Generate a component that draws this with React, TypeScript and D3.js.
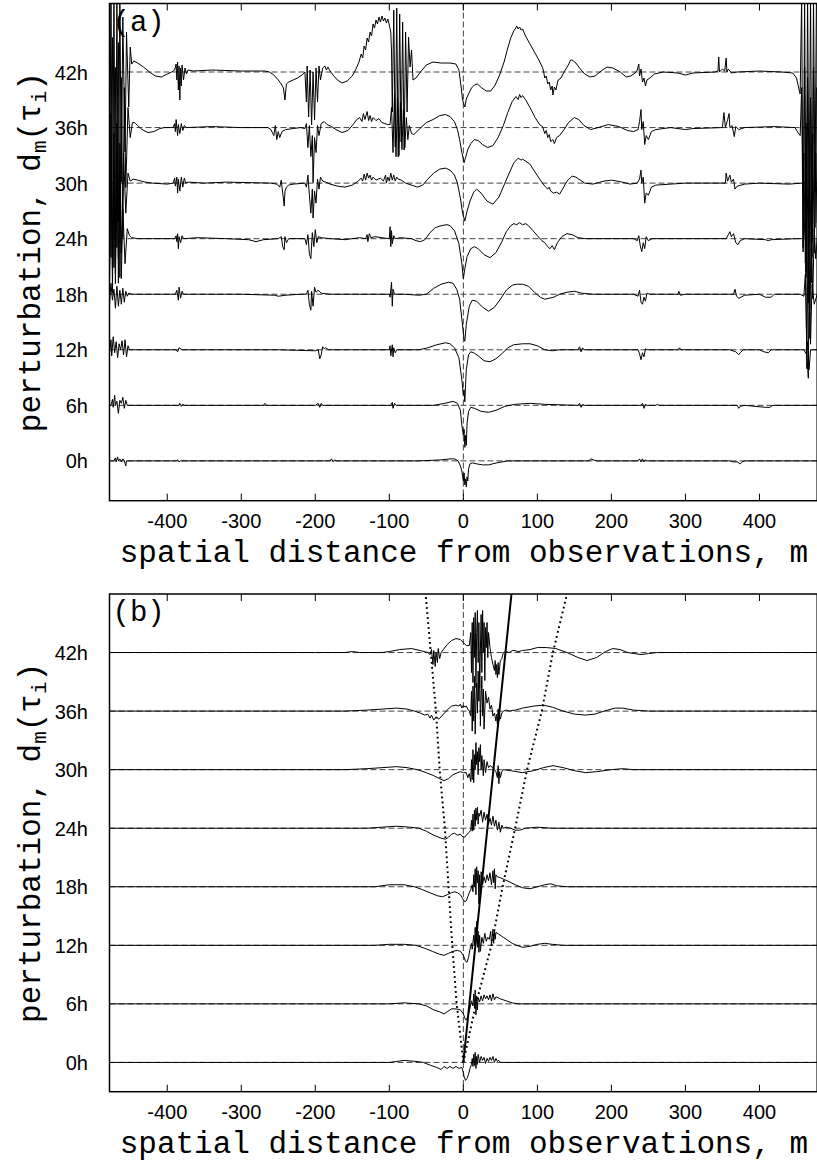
import React from 'react';
import * as d3 from 'd3';

type P = [number, number];

const X_TICKS = [-400, -300, -200, -100, 0, 100, 200, 300, 400];
const HOURS = [0, 6, 12, 18, 24, 30, 36, 42];
const HOUR_LABELS = ['0h', '6h', '12h', '18h', '24h', '30h', '36h', '42h'];
const X_TITLE = 'spatial distance from observations, m';

// ---------- panel (a): perturbation traces, [distance m, perturbation] ----------
const A_0H: P[] = [[-480,0],[-472,0],[-470,3],[-469,-1],[-467,4],[-466,0],[-464,2],[-462,-1],[-460,2],[-458,0],[-456,-5],[-455,0],[-450,0],[-388,0],[-386,1],[-384,-1],[-382,0],[-300,0],[-180,0],[-178,2],[-176,-1],[-174,1],[-172,0],[-100,0],[-60,0],[-30,1],[-18,2],[-12,2],[-7,0],[-4,-5],[-2,-10],[-1,-16],[0,-20],[1,-12],[2,-24],[3,-18],[4,-26],[5,-16],[6,-20],[7,-8],[9,-3],[12,-2],[18,-3],[26,-4],[34,-4],[45,-2],[60,0],[120,0],[170,0],[172,2],[176,1],[180,0],[236,0],[238,2],[240,-1],[242,2],[244,-1],[246,1],[248,0],[360,0],[364,-1],[370,-1],[374,-3],[377,-1],[380,0],[478,0]];
const A_6H: P[] = [[-480,0],[-476,0],[-474,6],[-473,-2],[-471,10],[-470,0],[-468,4],[-466,-8],[-464,5],[-462,2],[-460,8],[-458,-3],[-456,5],[-454,0],[-450,0],[-400,0],[-384,0],[-383,2],[-381,-1],[-379,1],[-377,0],[-300,0],[-270,0],[-268,2],[-266,0],[-200,0],[-196,2],[-194,-2],[-192,2],[-190,0],[-150,0],[-98,0],[-96,3],[-95,-3],[-93,2],[-91,0],[-40,0],[-25,2],[-14,4],[-8,2],[-4,-5],[-2,-20],[0,-30],[1,-24],[2,-42],[3,-30],[4,-40],[5,-18],[7,-6],[10,-2],[15,-3],[24,-6],[34,-7],[44,-5],[56,-1],[70,1],[90,2],[110,1],[155,0],[157,2],[159,-2],[161,1],[163,0],[240,0],[242,2],[244,-3],[246,1],[248,0],[260,0],[262,1],[264,0],[370,0],[372,-3],[374,-1],[380,0],[408,-2],[414,-2],[418,0],[478,0]];
const A_12H: P[] = [[-480,5],[-478,-4],[-476,10],[-475,-6],[-473,13],[-471,-3],[-469,8],[-467,-8],[-465,6],[-463,0],[-461,9],[-459,-5],[-457,10],[-455,-7],[-453,4],[-451,0],[-440,0],[-400,0],[-388,0],[-386,-2],[-384,2],[-380,0],[-300,0],[-250,0],[-200,-1],[-196,0],[-194,-9],[-192,-5],[-190,3],[-188,1],[-186,2],[-182,0],[-150,0],[-120,0],[-100,0],[-99,4],[-98,-6],[-96,5],[-95,-7],[-94,2],[-92,-3],[-90,0],[-60,0],[-48,2],[-36,5],[-24,7],[-18,6],[-12,2],[-6,-8],[-2,-30],[0,-45],[1,-40],[2,-52],[3,-35],[4,-20],[7,-5],[10,-2],[14,-3],[20,-6],[28,-11],[36,-12],[44,-9],[52,-4],[60,2],[68,5],[80,6],[90,6],[100,4],[110,0],[120,-1],[130,0],[155,0],[157,3],[159,-2],[161,2],[163,0],[200,0],[236,0],[238,-4],[240,-10],[242,-3],[244,-7],[246,1],[248,0],[260,0],[290,0],[292,2],[294,0],[360,0],[368,-2],[372,-5],[374,-3],[378,0],[400,0],[406,-2],[412,-3],[416,0],[460,0],[463,-4],[465,8],[467,-20],[469,0],[478,0]];
const A_18H: P[] = [[-480,8],[-478,-10],[-476,11],[-474,-6],[-472,5],[-470,-14],[-468,8],[-466,-12],[-464,4],[-462,-10],[-460,6],[-458,-8],[-456,3],[-454,-2],[-452,1],[-448,0],[-420,0],[-389,0],[-387,4],[-385,-6],[-384,7],[-382,-4],[-380,3],[-378,0],[-360,0],[-300,0],[-255,-1],[-250,-2],[-240,-1],[-220,0],[-212,0],[-210,4],[-208,-10],[-206,-16],[-205,3],[-203,-12],[-201,7],[-199,2],[-196,4],[-192,1],[-180,0],[-140,0],[-100,0],[-99,-3],[-97,12],[-96,-12],[-95,5],[-93,0],[-80,0],[-60,-1],[-50,0],[-40,6],[-30,10],[-20,12],[-14,11],[-9,5],[-5,-5],[-2,-25],[1,-45],[2,-47],[4,-30],[8,-12],[12,-6],[18,-7],[26,-13],[34,-17],[42,-13],[50,-5],[58,4],[66,9],[72,10],[80,10],[88,8],[96,2],[104,-3],[110,-5],[116,-4],[122,-3],[130,0],[140,2],[150,3],[160,1],[175,0],[230,0],[236,-2],[238,4],[240,-8],[242,-10],[244,-3],[246,-7],[248,1],[252,0],[290,0],[291,3],[293,-1],[300,0],[365,0],[367,5],[369,-2],[372,-4],[375,-3],[380,-1],[400,0],[408,-3],[416,-3],[420,0],[455,0],[460,-2],[462,20],[464,-60],[466,-84],[467,25],[469,-50],[471,10],[474,-10],[478,0]];
const A_24H: P[] = [[-480,80],[-478,-40],[-476,90],[-474,-30],[-472,70],[-470,-45],[-468,85],[-466,-20],[-464,60],[-462,-40],[-460,30],[-457,-25],[-454,10],[-451,3],[-448,1],[-440,0],[-420,0],[-390,0],[-388,3],[-387,-3],[-386,5],[-385,-10],[-384,2],[-382,-4],[-380,3],[-378,0],[-360,1],[-320,0],[-290,-1],[-280,-3],[-270,-1],[-250,0],[-246,2],[-244,-8],[-242,-11],[-241,2],[-239,-4],[-236,0],[-214,0],[-212,-6],[-210,4],[-208,-15],[-206,-20],[-204,6],[-202,-8],[-200,9],[-198,-4],[-196,2],[-192,1],[-180,0],[-160,-1],[-140,1],[-132,0],[-130,4],[-129,-3],[-127,5],[-125,1],[-120,2],[-110,1],[-100,0],[-99,12],[-98,-8],[-97,8],[-96,-5],[-94,3],[-92,0],[-85,1],[-70,0],[-64,-2],[-58,-3],[-52,-1],[-45,6],[-38,11],[-30,13],[-22,14],[-18,13],[-12,8],[-6,-5],[-2,-25],[0,-40],[2,-30],[5,-18],[10,-10],[15,-8],[20,-10],[28,-16],[36,-19],[44,-14],[52,-3],[58,7],[64,13],[68,15],[72,14],[76,16],[80,14],[84,15],[88,13],[94,8],[100,3],[106,-2],[110,-4],[114,-8],[117,-10],[120,-7],[123,-11],[127,-4],[133,2],[140,5],[147,4],[155,1],[165,0],[200,0],[230,0],[235,-2],[237,3],[239,-7],[241,-13],[243,-4],[245,-10],[247,2],[250,-2],[255,0],[300,0],[340,0],[355,0],[358,4],[360,7],[362,2],[365,5],[368,-4],[371,-6],[374,-2],[380,0],[408,-1],[412,-2],[416,-1],[450,0],[460,0],[462,30],[464,-130],[466,40],[468,-100],[470,20],[472,-60],[474,10],[476,-20],[478,0]];
const A_30H: P[] = [[-480,60],[-478,-100],[-476,70],[-474,-110],[-472,50],[-470,-90],[-468,60],[-466,-100],[-464,40],[-462,-70],[-459,30],[-456,-30],[-453,10],[-450,2],[-446,4],[-440,3],[-430,1],[-420,0],[-400,-1],[-392,0],[-390,5],[-389,-3],[-387,6],[-386,-10],[-385,4],[-383,-8],[-381,6],[-379,-4],[-377,5],[-375,0],[-372,1],[-350,0],[-320,1],[-260,0],[-252,-1],[-248,-4],[-246,3],[-244,-10],[-242,-23],[-241,-8],[-239,-4],[-236,-2],[-230,-1],[-214,0],[-212,-4],[-210,8],[-208,-12],[-206,-30],[-204,-6],[-203,-35],[-201,-8],[-199,-20],[-197,4],[-195,-6],[-193,6],[-190,2],[-186,1],[-180,-1],[-170,-3],[-160,-4],[-150,-2],[-142,2],[-138,5],[-136,2],[-134,9],[-132,3],[-130,10],[-128,5],[-126,8],[-124,3],[-122,6],[-118,3],[-112,5],[-108,2],[-105,8],[-104,0],[-102,6],[-100,2],[-98,10],[-96,3],[-94,8],[-92,2],[-90,6],[-88,4],[-84,3],[-78,0],[-70,-2],[-62,-4],[-55,-2],[-48,4],[-40,10],[-32,14],[-24,15],[-18,13],[-12,8],[-8,0],[-4,-15],[-1,-30],[2,-38],[5,-28],[9,-18],[14,-9],[18,-6],[24,-10],[32,-18],[40,-21],[48,-14],[55,-2],[62,10],[68,20],[74,25],[78,23],[80,24],[84,22],[90,19],[96,12],[104,3],[110,-3],[114,-6],[116,-4],[118,-8],[122,-10],[126,-9],[130,-11],[134,-6],[140,2],[147,7],[152,6],[158,3],[164,0],[175,-1],[190,2],[200,3],[215,1],[225,-1],[235,0],[238,4],[240,13],[241,0],[243,6],[245,-20],[247,-10],[250,-12],[254,-4],[260,-2],[280,-1],[300,0],[340,0],[354,0],[355,10],[357,2],[360,8],[362,1],[365,4],[367,-6],[370,-3],[380,-1],[400,0],[440,-1],[458,0],[460,30],[462,-80],[464,60],[466,-120],[468,40],[470,-100],[472,50],[474,-70],[476,30],[478,-40]];
const A_36H: P[] = [[-480,-60],[-478,70],[-476,-130],[-474,90],[-472,-140],[-470,60],[-468,-120],[-466,85],[-464,-150],[-462,50],[-460,-110],[-458,40],[-456,-60],[-453,20],[-450,-10],[-447,5],[-444,5],[-440,2],[-434,-2],[-426,-5],[-418,-4],[-410,-1],[-404,0],[-392,0],[-390,4],[-389,-4],[-388,8],[-386,-8],[-385,3],[-383,-6],[-381,4],[-379,-3],[-377,2],[-374,0],[-340,1],[-300,0],[-264,0],[-260,-2],[-256,-8],[-254,2],[-252,-12],[-250,-4],[-248,-10],[-245,-4],[-240,-2],[-230,-1],[-220,0],[-214,-1],[-212,4],[-210,-20],[-208,2],[-206,-29],[-204,-8],[-203,-55],[-201,-10],[-199,-25],[-197,2],[-195,-8],[-192,4],[-188,6],[-184,3],[-178,1],[-172,-2],[-164,-5],[-156,-3],[-150,2],[-144,8],[-140,10],[-137,6],[-135,14],[-133,8],[-130,16],[-128,7],[-126,12],[-124,6],[-122,10],[-118,7],[-114,9],[-110,5],[-106,4],[-102,3],[-99,3],[-97,20],[-95,-25],[-93,35],[-91,-29],[-89,30],[-87,-28],[-85,25],[-83,-22],[-81,18],[-79,-20],[-77,10],[-75,-12],[-73,2],[-70,-6],[-67,-7],[-60,-2],[-50,5],[-41,8],[-32,12],[-24,13],[-18,11],[-12,6],[-8,-2],[-5,-12],[-2,-25],[1,-35],[3,-30],[6,-22],[10,-16],[15,-12],[20,-13],[26,-17],[33,-20],[40,-18],[47,-10],[54,2],[60,15],[66,26],[71,31],[74,28],[76,33],[78,30],[80,32],[84,28],[90,20],[97,10],[103,3],[107,1],[110,-6],[112,-3],[114,-10],[116,-7],[118,-14],[121,-12],[123,-16],[126,-10],[130,-8],[136,-2],[142,5],[150,10],[156,8],[163,2],[172,-2],[182,0],[196,3],[210,1],[222,-3],[230,-4],[236,-2],[238,6],[240,18],[241,-2],[243,6],[245,-17],[247,-8],[250,-12],[254,-4],[260,-2],[280,0],[300,-2],[310,-1],[350,0],[352,15],[354,0],[357,8],[359,14],[360,0],[363,2],[366,-9],[368,1],[372,-2],[380,0],[420,1],[448,0],[452,-5],[455,-8],[457,40],[459,-120],[461,60],[463,-150],[465,50],[467,-160],[469,30],[471,-130],[473,60],[475,-100],[477,40]];
const A_42H: P[] = [[-480,90],[-478,-160],[-476,85],[-474,-195],[-472,80],[-470,-175],[-468,70],[-466,-150],[-464,75],[-462,-110],[-460,55],[-457,-80],[-455,40],[-452,-35],[-450,25],[-448,8],[-445,11],[-440,9],[-432,5],[-424,0],[-416,-4],[-408,-5],[-400,-2],[-394,0],[-390,2],[-388,8],[-387,-8],[-386,10],[-385,-18],[-384,6],[-383,-28],[-382,4],[-381,-14],[-380,7],[-378,-8],[-376,4],[-374,-2],[-372,2],[-365,1],[-340,2],[-300,1],[-268,1],[-262,0],[-256,-3],[-250,-8],[-246,-12],[-243,-16],[-241,-28],[-239,-12],[-236,-10],[-230,-8],[-224,-6],[-218,-3],[-214,0],[-212,-30],[-211,6],[-209,-45],[-207,2],[-205,-53],[-203,0],[-201,-48],[-199,4],[-197,-30],[-195,6],[-193,-8],[-190,4],[-187,6],[-185,2],[-183,5],[-180,1],[-175,-4],[-170,-8],[-164,-11],[-157,-9],[-150,-4],[-145,3],[-141,10],[-138,18],[-136,14],[-134,26],[-132,22],[-130,34],[-128,30],[-126,40],[-124,36],[-122,48],[-120,44],[-118,52],[-116,48],[-114,55],[-112,50],[-110,56],[-108,51],[-106,54],[-104,49],[-102,53],[-100,47],[-98,40],[-97,20],[-96,-40],[-94,62],[-92,-75],[-90,64],[-88,-85],[-86,58],[-84,-70],[-82,50],[-80,-78],[-78,40],[-76,-40],[-74,35],[-72,5],[-70,22],[-68,-8],[-64,-6],[-58,0],[-50,7],[-41,10],[-30,9],[-18,9],[-10,8],[-6,2],[-3,-15],[-1,-28],[1,-33],[2,-35],[4,-27],[7,-22],[11,-16],[15,-13],[19,-12],[25,-16],[31,-19],[37,-19],[43,-13],[49,-3],[55,10],[60,24],[64,34],[68,41],[70,43],[72,46],[74,43],[76,45],[78,42],[80,43],[84,36],[90,28],[96,20],[102,12],[106,6],[108,2],[110,-6],[112,-4],[114,-12],[116,-10],[118,-18],[120,-14],[121,-23],[123,-15],[125,-18],[128,-8],[132,-6],[136,0],[141,6],[145,12],[147,12],[152,9],[158,3],[164,-2],[171,-5],[178,-4],[186,1],[194,5],[202,4],[212,0],[220,-5],[226,-4],[232,-1],[235,2],[237,8],[238,-4],[240,3],[242,-10],[244,-6],[246,-14],[248,-8],[252,-6],[258,-2],[270,0],[290,-1],[300,-3],[310,-1],[340,0],[344,1],[345,15],[346,0],[350,3],[353,1],[355,14],[356,0],[358,3],[362,-1],[370,0],[400,1],[430,0],[445,-1],[450,-6],[453,-16],[455,-22],[457,75],[459,-180],[461,75],[463,-200],[465,80],[467,-140],[469,80],[471,-170],[473,75],[475,-120],[477,80]];

// ---------- panel (b) ----------
const B_0H: P[] = [[-480,0],[-100,0],[-80,2],[-64,1],[-54,0],[-44,-3],[-36,-5],[-30,-7],[-26,-4],[-22,-6],[-18,-4],[-14,-6],[-10,-4],[-6,-6],[-2,-5],[0,-10],[1,-14],[3,-18],[5,-16],[7,-12],[9,-6],[11,-2],[12,4],[13,-4],[14,8],[15,-3],[16,10],[17,-6],[18,6],[19,-2],[20,8],[22,0],[24,6],[26,2],[28,5],[30,-1],[32,4],[34,1],[36,5],[38,2],[40,6],[42,0],[44,4],[46,1],[48,2],[50,0],[478,0]];
const B_6H: P[] = [[-480,0],[-100,0],[-80,1],[-60,0],[-50,-2],[-40,-6],[-32,-8],[-26,-10],[-22,-8],[-16,-5],[-10,-5],[-4,-6],[0,-10],[3,-16],[5,-15],[7,-10],[9,-4],[11,3],[13,-2],[14,10],[15,-4],[16,14],[17,-11],[18,8],[19,-6],[20,6],[22,2],[24,8],[26,3],[28,9],[30,5],[32,8],[34,4],[36,9],[38,3],[40,10],[42,4],[44,7],[50,5],[58,3],[66,1],[75,0],[478,0]];
const B_12H: P[] = [[-480,0],[-120,0],[-100,1],[-80,1],[-64,0],[-52,-3],[-42,-6],[-32,-9],[-26,-10],[-20,-8],[-14,-6],[-8,-5],[-4,-6],[0,-10],[3,-16],[5,-17],[7,-12],[9,-4],[11,2],[12,-4],[14,10],[15,0],[16,18],[17,4],[18,24],[19,-2],[20,14],[21,-7],[22,10],[23,-6],[25,8],[27,2],[29,12],[31,4],[33,8],[35,6],[37,14],[38,0],[40,16],[41,2],[42,14],[43,6],[44,13],[48,11],[54,8],[60,5],[66,2],[72,0],[80,-2],[90,-1],[100,1],[110,2],[120,1],[135,0],[478,0]];
const B_18H: P[] = [[-480,0],[-120,0],[-100,2],[-80,2],[-66,0],[-55,-3],[-45,-6],[-35,-9],[-28,-10],[-22,-8],[-16,-6],[-12,-5],[-8,-6],[-4,-8],[0,-13],[2,-15],[4,-14],[6,-10],[8,-6],[10,-3],[12,2],[13,-5],[14,12],[15,0],[16,18],[17,-8],[18,20],[19,4],[20,16],[21,-17],[22,12],[23,-12],[24,15],[26,2],[28,10],[30,4],[32,12],[34,6],[36,14],[38,2],[40,16],[41,4],[42,18],[43,-2],[44,12],[46,10],[50,9],[56,7],[62,5],[70,2],[80,-1],[90,-2],[100,0],[110,2],[118,3],[126,1],[140,0],[478,0]];
const B_24H: P[] = [[-480,0],[-130,0],[-110,1],[-90,2],[-72,1],[-60,0],[-50,-3],[-40,-7],[-30,-10],[-24,-11],[-20,-9],[-16,-6],[-12,-5],[-8,-7],[-4,-6],[-2,-8],[2,-9],[5,-6],[8,-4],[10,-2],[11,8],[12,-3],[13,14],[14,-2],[15,18],[16,2],[17,20],[18,8],[19,21],[20,4],[21,15],[22,12],[24,18],[26,6],[28,16],[30,8],[32,14],[34,4],[36,10],[38,3],[40,12],[42,2],[44,8],[46,-2],[48,6],[50,-4],[52,3],[54,0],[58,1],[64,0],[70,-2],[76,-2],[84,0],[100,1],[120,0],[478,0]];
const B_30H: P[] = [[-480,0],[-160,0],[-130,1],[-110,2],[-90,3],[-76,2],[-62,0],[-50,-3],[-40,-6],[-32,-9],[-26,-11],[-20,-9],[-14,-5],[-8,-3],[-4,-2],[0,-3],[4,-3],[6,-8],[8,-4],[10,-12],[11,10],[12,-10],[13,20],[14,-13],[15,15],[16,0],[17,27],[18,5],[19,18],[20,-5],[21,22],[22,8],[23,25],[24,0],[25,14],[27,-6],[28,10],[30,-3],[32,8],[34,2],[36,4],[40,2],[44,-2],[46,-8],[47,4],[48,-14],[49,-2],[50,-8],[52,-2],[54,0],[64,-1],[80,-3],[95,-1],[108,2],[121,4],[135,2],[150,-1],[165,-3],[180,-2],[200,0],[215,1],[230,0],[478,0]];
const B_36H: P[] = [[-480,0],[-160,0],[-130,1],[-110,2],[-90,3],[-76,2],[-66,0],[-58,-2],[-52,-4],[-48,-3],[-45,-7],[-43,-4],[-40,-9],[-37,-6],[-33,-8],[-28,-4],[-22,1],[-16,5],[-10,6],[-6,5],[-4,7],[-2,3],[0,6],[2,4],[4,5],[6,2],[8,0],[10,-5],[11,20],[12,-20],[13,25],[14,-10],[15,35],[16,-23],[17,10],[18,28],[19,-2],[20,40],[21,10],[22,47],[23,-15],[24,15],[25,35],[26,-5],[27,22],[28,-18],[30,20],[32,8],[34,14],[36,2],[38,6],[40,-5],[42,-2],[44,-10],[45,-3],[46,-13],[47,2],[48,-10],[49,-3],[50,-8],[52,-2],[54,0],[58,1],[62,0],[70,1],[80,3],[95,5],[108,6],[120,4],[135,0],[150,-3],[165,-4],[178,-3],[190,0],[205,3],[215,3],[230,1],[250,0],[478,0]];
const B_42H: P[] = [[-480,0],[-200,0],[-160,0],[-150,1],[-140,0],[-110,0],[-100,1],[-86,3],[-70,4],[-58,2],[-48,0],[-45,-2],[-43,3],[-41,-12],[-40,2],[-38,-14],[-37,0],[-35,-10],[-34,4],[-32,-6],[-30,0],[-27,3],[-22,8],[-16,12],[-10,14],[-4,13],[0,10],[4,7],[8,7],[10,20],[11,-20],[12,30],[13,-30],[14,35],[15,-5],[16,40],[17,-35],[18,20],[19,42],[20,-10],[21,30],[22,-35],[24,38],[25,-20],[26,42],[27,0],[28,30],[29,-28],[30,25],[31,5],[32,30],[33,-5],[34,20],[36,5],[38,-5],[40,-12],[42,-18],[43,-8],[44,-22],[45,-12],[46,-25],[47,-10],[48,-22],[50,-8],[52,-6],[54,0],[58,1],[62,0],[66,2],[70,2],[74,1],[80,2],[90,3],[100,5],[112,5],[125,4],[140,0],[155,-5],[167,-8],[180,-5],[192,1],[202,4],[212,3],[222,0],[240,-2],[250,-1],[262,0],[300,0],[478,0]];

// envelope (dotted) and drift line (solid) in panel (b): [distance m, hours]
const DRIFT_LEFT: P[] = [[0,0],[6,-9],[12,-15],[18,-20],[24,-25],[30,-32],[36,-37],[42,-44],[48,-51]].map(([h, m]) => [m, h] as P);
const DRIFT_RIGHT: P[] = [[0,0],[6,17],[12,38],[18,53],[24,70],[30,86],[36,106],[42,121],[48,140]].map(([h, m]) => [m, h] as P);
const DRIFT_MEAN: P[] = [[0, 0], [65, 48]];

const TRACES_A = [A_0H, A_6H, A_12H, A_18H, A_24H, A_30H, A_36H, A_42H];
const TRACES_B = [B_0H, B_6H, B_12H, B_18H, B_24H, B_30H, B_36H, B_42H];

const LEFT = 109.5;
const RIGHT = 817.2;
const X_DOMAIN: [number, number] = [-478, 478];

const MONO = '"Liberation Mono", "DejaVu Sans Mono", monospace';
const SANS = '"Liberation Sans", Arial, sans-serif';

type PanelProps = {
  id: string;
  top: number;
  bottom: number;
  yDomain: [number, number];
  traces: P[][];
  gain: number;
  label: string;
  drift?: boolean;
};

function Panel({ id, top, bottom, yDomain, traces, gain, label, drift }: PanelProps) {
  const x = d3.scaleLinear().domain(X_DOMAIN).range([LEFT, RIGHT]);
  const y = d3.scaleLinear().domain(yDomain).range([bottom, top]);
  const midY = (top + bottom) / 2;
  const x0 = x(0);

  const clipId = `clip-${id}`;
  const hourLine = d3.line<P>().x((p) => x(p[0])).y((p) => y(p[1]));

  return (
    <g>
      <defs>
        <clipPath id={clipId}>
          <rect x={LEFT} y={top} width={RIGHT - LEFT} height={bottom - top} />
        </clipPath>
      </defs>
      {/* baselines */}
      {HOURS.map((h) => (
        <line key={`b${h}`} x1={LEFT} x2={RIGHT} y1={y(h)} y2={y(h)} stroke="#444" strokeWidth={1} strokeDasharray="6,3" />
      ))}
      <line x1={x0} x2={x0} y1={top} y2={bottom} stroke="#444" strokeWidth={1} strokeDasharray="6,3" />
      <g clipPath={`url(#${clipId})`}>
        {traces.map((tr, i) => {
          const base = HOURS[i];
          const line = d3
            .line<P>()
            .x((p) => x(p[0]))
            .y((p) => y(base + p[1] * gain));
          return <path key={i} d={line(tr) || ''} fill="none" stroke="#000" strokeWidth={1} strokeLinejoin="round" />;
        })}
        {drift && (
          <>
            <path d={hourLine(DRIFT_LEFT) || ''} fill="none" stroke="#000" strokeWidth={2} strokeDasharray="1.8,3.2" />
            <path d={hourLine(DRIFT_RIGHT) || ''} fill="none" stroke="#000" strokeWidth={2} strokeDasharray="1.8,3.2" />
            <path d={hourLine(DRIFT_MEAN) || ''} fill="none" stroke="#000" strokeWidth={2} />
          </>
        )}
      </g>
      {/* frame */}
      <rect x={LEFT} y={top} width={RIGHT - LEFT} height={bottom - top} fill="none" stroke="#000" strokeWidth={1.5} />
      {X_TICKS.map((t) => (
        <g key={`t${t}`}>
          <line x1={x(t)} x2={x(t)} y1={bottom} y2={bottom - 7} stroke="#000" strokeWidth={1} />
          <line x1={x(t)} x2={x(t)} y1={top} y2={top + 7} stroke="#000" strokeWidth={1} />
          <text x={x(t)} y={bottom + 27} textAnchor="middle" fontFamily={SANS} fontSize={20} fill="#000">
            {t}
          </text>
        </g>
      ))}
      {HOURS.map((h, i) => (
        <text key={`l${h}`} x={88} y={y(h) + 7.5} textAnchor="end" fontFamily={SANS} fontSize={20} fill="#000">
          {HOUR_LABELS[i]}
        </text>
      ))}
      <text x={LEFT + 3} y={top + 27} fontFamily={MONO} fontSize={29} fill="#000">
        {label}
      </text>
      <text x={(LEFT + RIGHT) / 2 + 0.5} y={bottom + 61} textAnchor="middle" fontFamily={MONO} fontSize={31} fill="#000">
        {X_TITLE}
      </text>
      <text
        transform={`translate(40,${midY}) rotate(-90)`}
        textAnchor="middle"
        fontFamily={MONO}
        fontSize={31}
        fill="#000"
      >
        perturbation, d
        <tspan fontSize={21} dy={6}>m</tspan>
        <tspan dy={-6}>(τ</tspan>
        <tspan fontSize={21} dy={6}>i</tspan>
        <tspan dy={-6}>)</tspan>
      </text>
    </g>
  );
}

export default function App() {
  return (
    <svg width={817} height={1162} style={{ position: 'absolute', left: 0, top: 0, background: '#fff' }}>
      <rect x={0} y={0} width={817} height={1162} fill="#fff" />
      <Panel id="a" top={3.5} bottom={500.7} yDomain={[-4.3, 49.4]} traces={TRACES_A} gain={0.108} label="(a)" />
      <Panel id="b" top={594} bottom={1091.7} yDomain={[-3, 48]} traces={TRACES_B} gain={0.1025} label="(b)" drift />
    </svg>
  );
}
